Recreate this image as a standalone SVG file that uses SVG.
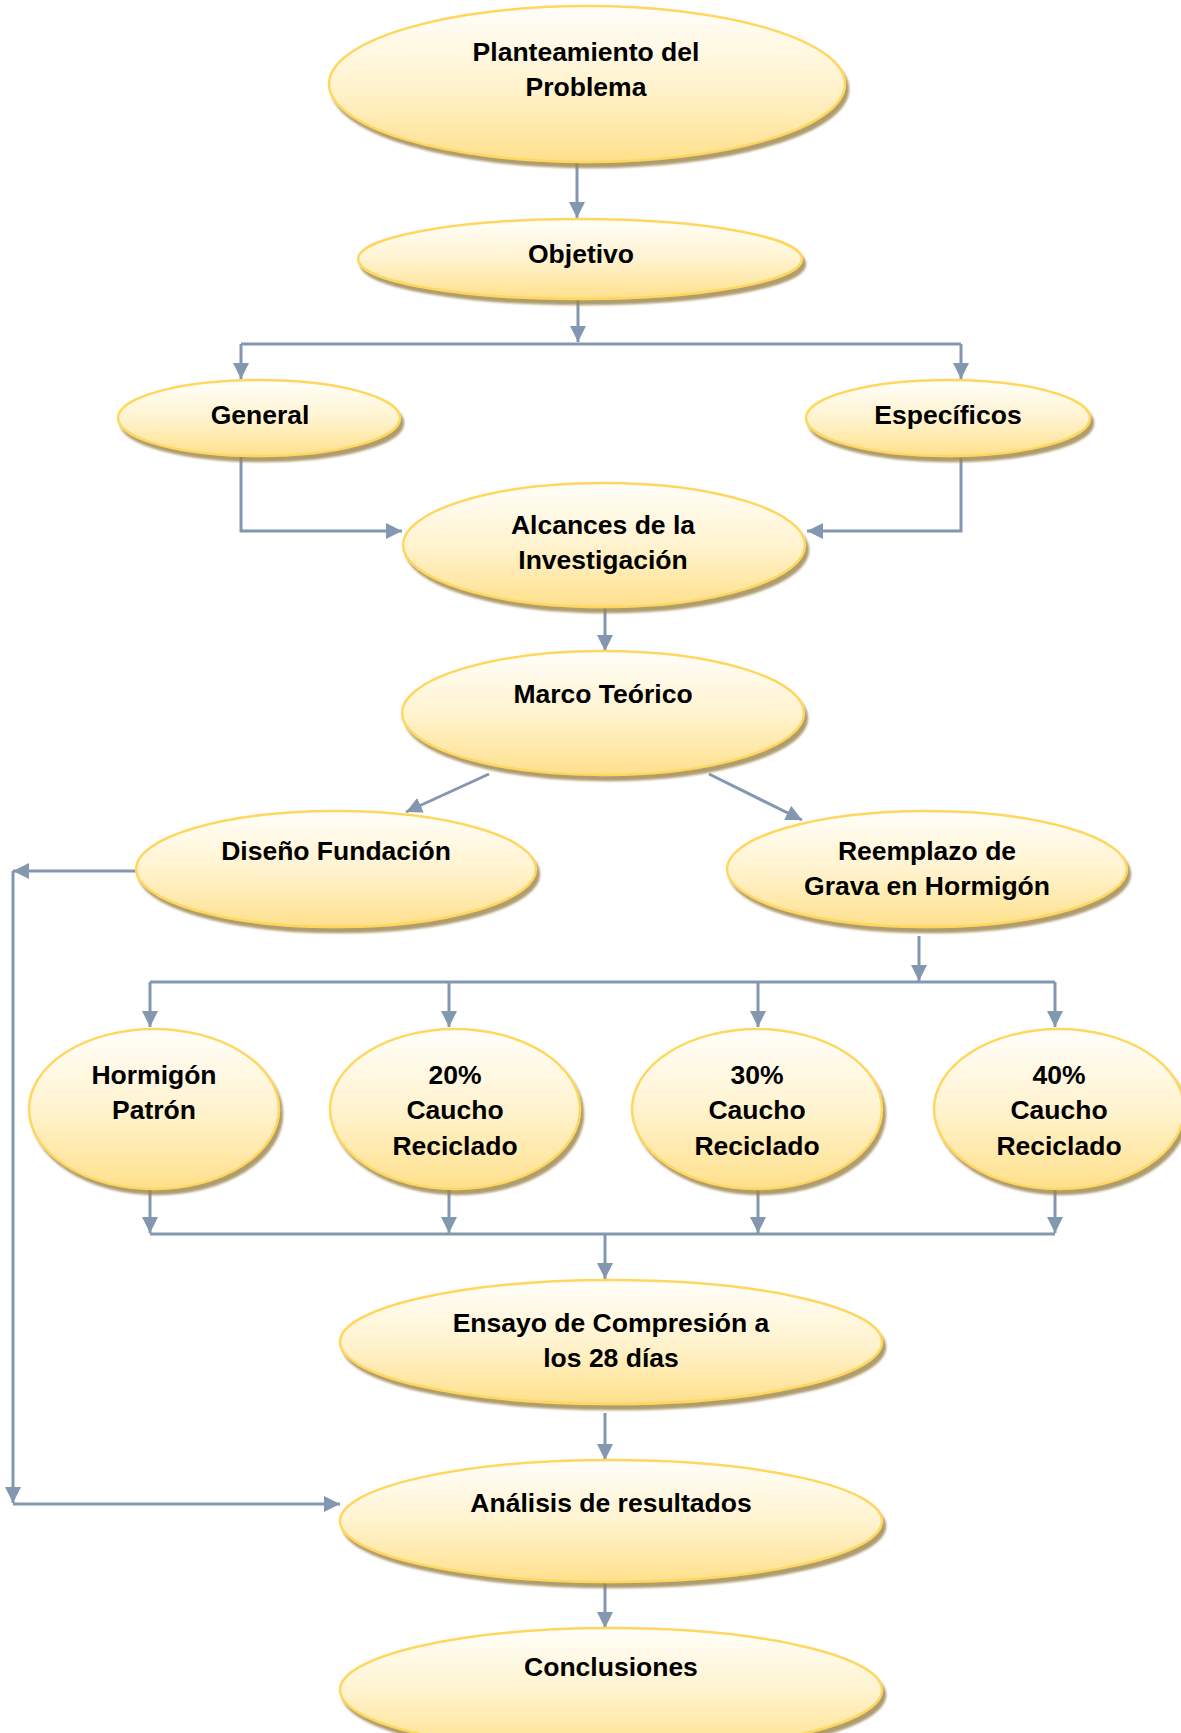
<svg xmlns="http://www.w3.org/2000/svg" width="1181" height="1733" viewBox="0 0 1181 1733">
<defs>
<linearGradient id="g" x1="0" y1="0" x2="0" y2="1">
<stop offset="0" stop-color="#FFFEFA"/>
<stop offset="0.5" stop-color="#FFF3CF"/>
<stop offset="1" stop-color="#FFE08C"/>
</linearGradient>
<filter id="sh" x="-10%" y="-10%" width="125%" height="130%">
<feDropShadow dx="3" dy="5" stdDeviation="1" flood-color="#9C8448" flood-opacity="0.8"/>
</filter>
<marker id="a" markerUnits="userSpaceOnUse" markerWidth="18" markerHeight="18" refX="16" refY="8" orient="auto">
<path d="M0,0 L16,8 L0,16 z" fill="#8497B0"/>
</marker>
</defs>
<style>
.n ellipse{fill:url(#g);stroke:#FFD75E;stroke-width:2.5;filter:url(#sh)}
.n text{font-family:"Liberation Sans",Arial,sans-serif;font-weight:bold;font-size:26.5px;fill:#000;text-anchor:middle}
#edges path{fill:none;stroke:#8497B0;stroke-width:3}
#edges path.m{marker-end:url(#a)}
</style>
<g id="edges">
<path class="m" d="M577,162 V218"/>
<path class="m" d="M578,298 V342"/>
<path d="M241,344 H961"/>
<path class="m" d="M241,344 V379"/>
<path class="m" d="M961,344 V379"/>
<path class="m" d="M241,456 V531 H402"/>
<path class="m" d="M961,458 V531 H807"/>
<path class="m" d="M605,606 V651"/>
<path class="m" d="M489,774 L406,812"/>
<path class="m" d="M709,774 L802,820"/>
<path class="m" d="M136,871 H13"/>
<path class="m" d="M13,871 V1503"/>
<path class="m" d="M13,1504 H340"/>
<path class="m" d="M919,936 V981"/>
<path d="M150,982 H1055"/>
<path class="m" d="M150,982 V1027"/>
<path class="m" d="M449,982 V1027"/>
<path class="m" d="M758,982 V1027"/>
<path class="m" d="M1055,982 V1027"/>
<path class="m" d="M150,1189 V1233"/>
<path class="m" d="M449,1189 V1233"/>
<path class="m" d="M758,1189 V1233"/>
<path class="m" d="M1055,1189 V1233"/>
<path d="M150,1234 H1055"/>
<path class="m" d="M605,1234 V1279"/>
<path class="m" d="M605,1413 V1460"/>
<path class="m" d="M605,1582 V1628"/>
</g>
<g id="n1" class="n"><ellipse cx="587" cy="84" rx="258" ry="78"/><text x="586" y="61">Planteamiento del</text><text x="586" y="96">Problema</text></g>
<g id="n2" class="n"><ellipse cx="580" cy="259" rx="222" ry="40"/><text x="581" y="263">Objetivo</text></g>
<g id="n3" class="n"><ellipse cx="259" cy="418" rx="141" ry="38"/><text x="260" y="424">General</text></g>
<g id="n4" class="n"><ellipse cx="948" cy="418" rx="142" ry="38"/><text x="948" y="424">Específicos</text></g>
<g id="n5" class="n"><ellipse cx="604" cy="545" rx="201" ry="62"/><text x="603" y="534">Alcances de la</text><text x="603" y="569">Investigación</text></g>
<g id="n6" class="n"><ellipse cx="603" cy="713" rx="201" ry="62"/><text x="603" y="703">Marco Teórico</text></g>
<g id="n7" class="n"><ellipse cx="336" cy="869" rx="200" ry="58"/><text x="336" y="860">Diseño Fundación</text></g>
<g id="n8" class="n"><ellipse cx="927" cy="869" rx="200" ry="58"/><text x="927" y="860">Reemplazo de</text><text x="927" y="895">Grava en Hormigón</text></g>
<g id="n9" class="n"><ellipse cx="154" cy="1109" rx="125" ry="80"/><text x="154" y="1084">Hormigón</text><text x="154" y="1119">Patrón</text></g>
<g id="n10" class="n"><ellipse cx="455" cy="1109" rx="125" ry="80"/><text x="455" y="1084">20%</text><text x="455" y="1119">Caucho</text><text x="455" y="1155">Reciclado</text></g>
<g id="n11" class="n"><ellipse cx="757" cy="1109" rx="125" ry="80"/><text x="757" y="1084">30%</text><text x="757" y="1119">Caucho</text><text x="757" y="1155">Reciclado</text></g>
<g id="n12" class="n"><ellipse cx="1059" cy="1109" rx="125" ry="80"/><text x="1059" y="1084">40%</text><text x="1059" y="1119">Caucho</text><text x="1059" y="1155">Reciclado</text></g>
<g id="n13" class="n"><ellipse cx="611" cy="1342" rx="271" ry="62"/><text x="611" y="1332">Ensayo de Compresión a</text><text x="611" y="1367">los 28 días</text></g>
<g id="n14" class="n"><ellipse cx="611" cy="1521" rx="271" ry="61"/><text x="611" y="1512">Análisis de resultados</text></g>
<g id="n15" class="n"><ellipse cx="611" cy="1690" rx="271" ry="62"/><text x="611" y="1676">Conclusiones</text></g>
</svg>
